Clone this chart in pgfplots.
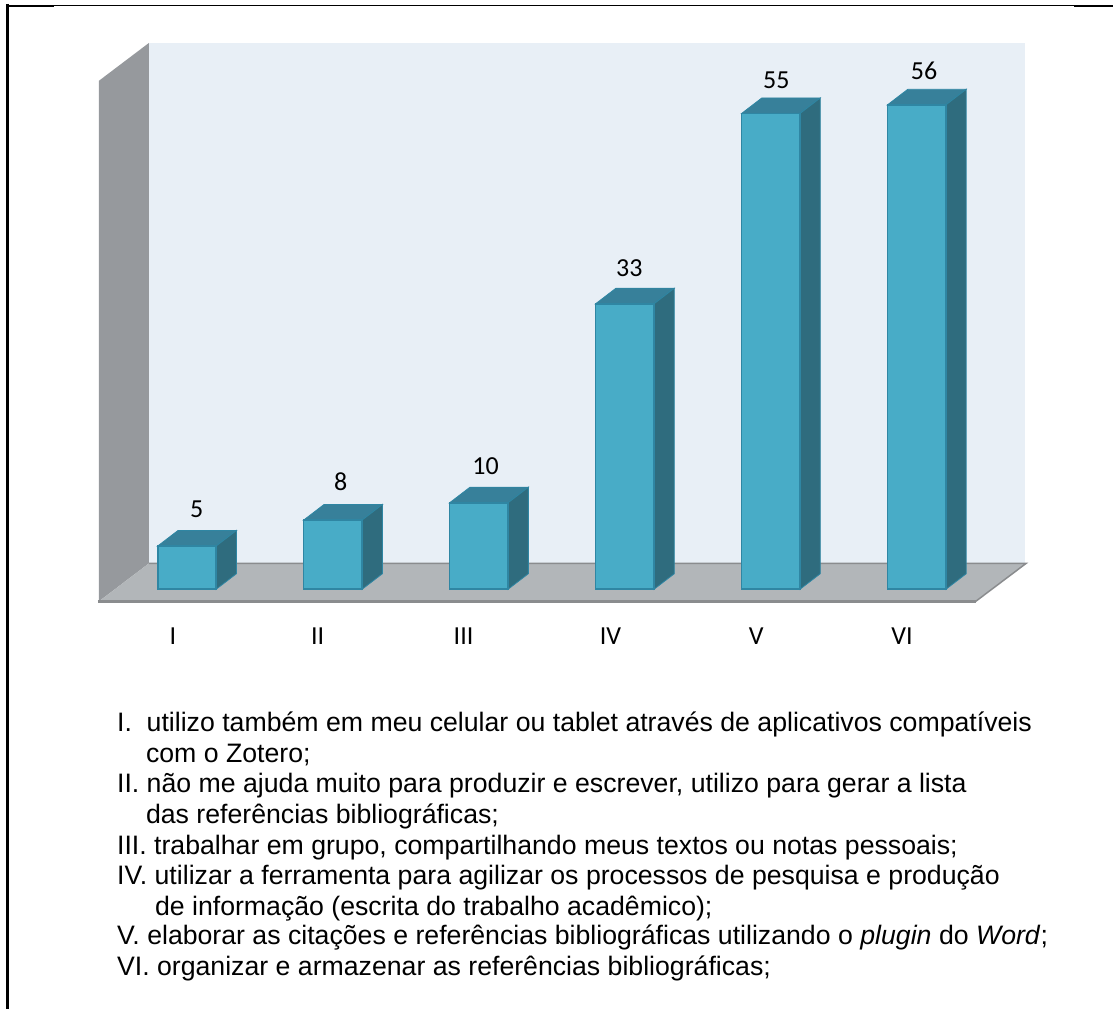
\documentclass[border=0pt]{standalone}
\usepackage{fontspec}
\setmainfont{Liberation Sans}
\newfontfamily\calib{Carlito}
\usepackage{pgfplots}
\pgfplotsset{compat=1.18}
\definecolor{barfront}{HTML}{48ACC7}
\definecolor{bartop}{HTML}{37809A}
\definecolor{barside}{HTML}{2F6C7E}
\definecolor{baredge}{HTML}{2F86A3}
\definecolor{backwall}{HTML}{E8EFF6}
\definecolor{sidewall}{HTML}{96999D}
\definecolor{floorc}{HTML}{B2B6B9}
\definecolor{floorline}{HTML}{8A8C8E}
% pixel position of the reference -> axis coordinates
\newcommand{\px}[2]{(axis cs:{(#1-187)/146.1},{(590-#2)/8.66})}
\newcommand{\barlabel}[3]{\node[font=\calib\fontsize{26}{26}\selectfont,text=black] at \px{#1}{#2} {#3};}
\newcommand{\cat}[2]{\node[font=\fontsize{26}{26}\calib\selectfont,text=black] at \px{#1}{637} {#2};}
\newcommand{\txt}[3]{\node[anchor=base west,inner sep=0pt,font=\fontsize{26.7}{28}\selectfont,text=black] at \px{#1}{#2} {#3};}
\begin{document}
\begin{tikzpicture}
\begin{axis}[
    scale only axis,
    width=1114pt,
    height=1010pt,
    xmin=-1.27995, xmax=6.34497,
    ymin=-48.4988, ymax=68.1293,
    hide axis,
    clip=false,
]
% hidden axis gives no bounding box, so fix the page size here
\path \px{0}{0} rectangle \px{1114}{1010};
% walls and floor
\addplot[fill=backwall,draw=none] coordinates {(-0.26,63.16) (5.743,63.16) (5.743,3.0) (-0.26,3.0)} --cycle;
\addplot[fill=sidewall,draw=none] coordinates {(-0.603,58.78) (-0.26,63.16) (-0.26,3.0) (-0.603,-1.4)} --cycle;
\addplot[fill=floorc,draw=none] coordinates {(-0.603,-1.4) (-0.26,3.0) (5.75,3.0) (5.404,-1.4)} --cycle;
\addplot[draw=floorline,line width=1.5pt] coordinates {(-0.26,3.0) (5.75,3.0) (5.404,-1.4)};
\addplot[draw=floorline,line width=2.2pt] coordinates {(-0.61,-1.4) (5.404,-1.4)};
% bar I
\addplot[fill=bartop,draw=baredge,line width=0.8pt] coordinates {(-0.2,5) (0.2,5) (0.34,6.81) (-0.06,6.81)} --cycle;
\addplot[fill=barside,draw=baredge,line width=0.8pt] coordinates {(0.2,0) (0.2,5) (0.34,6.81) (0.34,1.81)} --cycle;
% bar II
\addplot[fill=bartop,draw=baredge,line width=0.8pt] coordinates {(0.8,8) (1.2,8) (1.34,9.81) (0.94,9.81)} --cycle;
\addplot[fill=barside,draw=baredge,line width=0.8pt] coordinates {(1.2,0) (1.2,8) (1.34,9.81) (1.34,1.81)} --cycle;
% bar III
\addplot[fill=bartop,draw=baredge,line width=0.8pt] coordinates {(1.8,10) (2.2,10) (2.34,11.81) (1.94,11.81)} --cycle;
\addplot[fill=barside,draw=baredge,line width=0.8pt] coordinates {(2.2,0) (2.2,10) (2.34,11.81) (2.34,1.81)} --cycle;
% bar IV
\addplot[fill=bartop,draw=baredge,line width=0.8pt] coordinates {(2.8,33) (3.2,33) (3.34,34.81) (2.94,34.81)} --cycle;
\addplot[fill=barside,draw=baredge,line width=0.8pt] coordinates {(3.2,0) (3.2,33) (3.34,34.81) (3.34,1.81)} --cycle;
% bar V
\addplot[fill=bartop,draw=baredge,line width=0.8pt] coordinates {(3.8,55) (4.2,55) (4.34,56.81) (3.94,56.81)} --cycle;
\addplot[fill=barside,draw=baredge,line width=0.8pt] coordinates {(4.2,0) (4.2,55) (4.34,56.81) (4.34,1.81)} --cycle;
% bar VI
\addplot[fill=bartop,draw=baredge,line width=0.8pt] coordinates {(4.8,56) (5.2,56) (5.34,57.81) (4.94,57.81)} --cycle;
\addplot[fill=barside,draw=baredge,line width=0.8pt] coordinates {(5.2,0) (5.2,56) (5.34,57.81) (5.34,1.81)} --cycle;
% front faces
\addplot[ybar,bar width=0.4,bar shift=0pt,fill=barfront,draw=baredge,line width=1.8pt]
    coordinates {(0,5) (1,8) (2,10) (3,33) (4,55) (5,56)};
% value labels
\barlabel{197}{510}{5}
\barlabel{341}{482}{8}
\barlabel{486}{467}{10}
\barlabel{630}{268}{33}
\barlabel{777}{80}{55}
\barlabel{925}{71}{56}
% categories
\cat{173}{I}
\cat{318}{II}
\cat{464}{III}
\cat{611}{IV}
\cat{757}{V}
\cat{903}{VI}
% caption text
\txt{117}{732}{I.\ \ utilizo também em meu celular ou tablet através de aplicativos compatíveis}
\txt{146}{763}{com o Zotero;}
\txt{117}{793}{II. não me ajuda muito para produzir e escrever, utilizo para gerar a lista}
\txt{146}{824}{das referências bibliográficas;}
\txt{117}{855}{III. trabalhar em grupo, compartilhando meus textos ou notas pessoais;}
\txt{117}{885}{IV. utilizar a ferramenta para agilizar os processos de pesquisa e produção}
\txt{155}{916}{de informação (escrita do trabalho acadêmico);}
\txt{117}{946}{V. elaborar as citações e referências bibliográficas utilizando o \textit{plugin} do \textit{Word};}
\txt{117}{977}{VI. organizar e armazenar as referências bibliográficas;}
% page frame
\draw[black,line width=3pt] \px{8}{4} -- \px{8}{1010};
\draw[black,line width=1.2pt] \px{8}{5.5} -- \px{1114}{5.5};
\draw[black,line width=2.2pt] \px{8}{6} -- \px{54}{6};
\draw[black,line width=2.2pt] \px{1075}{6} -- \px{1114}{6};
\end{axis}
\end{tikzpicture}
\end{document}
